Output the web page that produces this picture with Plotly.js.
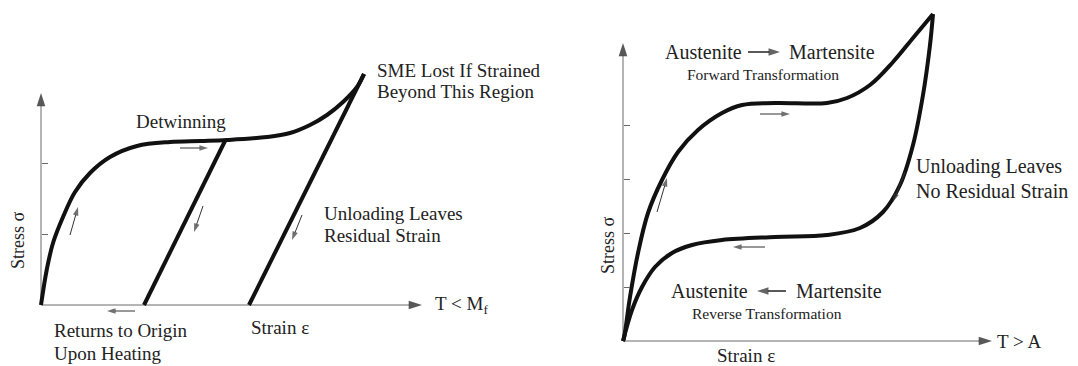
<!DOCTYPE html>
<html>
<head>
<meta charset="utf-8">
<script src="https://cdn.plot.ly/plotly-3.0.1.min.js"></script>
<style>html,body{margin:0;padding:0;background:#fff;}#chart{width:1078px;height:366px;}</style>
</head>
<body>
<div id="chart"></div>
<script>
// ---------- Left panel: T < Mf (shape memory effect), arbitrary units ----------
var loadStrainL = [0, 5.7, 12, 22, 34, 49, 69, 96, 129, 160, 186, 226, 249, 269, 286, 302, 316, 323];
var loadStressL = [0, 35, 62, 88, 113, 132, 148, 159, 163, 164, 165, 168, 172, 180, 190, 203, 218, 231];
var unload1StrainL = [184, 103];
var unload1StressL = [164, 0];
var unload2StrainL = [323, 208];
var unload2StressL = [231, 0];
var yTicksL = [71, 142];
var axisTipL = {x: 381, y: 212};

// ---------- Right panel: T > A (pseudoelasticity), arbitrary units ----------
var fwdStrainR = [0, 1, 7, 15, 25, 39, 55, 75, 99, 119, 152, 204, 224, 247, 270, 290, 310];
var fwdStressR = [0, 3, 44, 88, 128, 161, 189, 211, 228, 236, 238, 238, 243, 256, 279, 303, 327];
var revStrainR = [310, 307, 300, 290, 277, 260, 237, 204, 152, 99, 69, 49, 32, 19, 9, 0];
var revStressR = [327, 296, 246, 196, 156, 129, 113, 106, 104, 101, 96, 88, 74, 54, 31, 0];
var yTicksR = [54, 108, 162, 216];
var axisTipR = {x: 369, y: 298};

// direction arrows: [tailX, tailY, tipX, tipY]
var arrowsL = [[29, 70, 37, 98], [139, 157, 167, 157], [162, 99, 153, 73], [261, 90, 251, 65], [94, -6, 66, -6]];
var arrowsR = [[34, 129, 44, 163], [137, 227, 167, 227], [282, 169, 270, 139], [142, 94, 110, 94]];
var textArrowsR = [[125, 289, 157, 289], [163, 50, 134, 50]];

var INK = '#111';
var TXT = '#222';
var AX = '#6a6a6a';
var FONT = 'Liberation Serif, Times New Roman, serif';

var traces = [];
function curve(xs, ys, xa, ya) {
  traces.push({x: xs, y: ys, xaxis: xa, yaxis: ya, mode: 'lines', type: 'scatter',
    line: {color: INK, width: 4, shape: 'spline', smoothing: 1}, hoverinfo: 'skip'});
}
function straight(xs, ys, xa, ya) {
  traces.push({x: xs, y: ys, xaxis: xa, yaxis: ya, mode: 'lines', type: 'scatter',
    line: {color: INK, width: 4}, hoverinfo: 'skip'});
}
function arrow(a, xa, ya, color, lw, size, headColor) {
  traces.push({x: [a[0], a[2]], y: [a[1], a[3]], xaxis: xa, yaxis: ya, type: 'scatter',
    mode: 'lines+markers', cliponaxis: false, hoverinfo: 'skip',
    line: {color: color, width: lw},
    marker: {symbol: ['circle', 'arrow'], size: [0, size], color: headColor || color, angleref: 'previous',
      line: {width: 0}}});
}

// left panel
arrow([0, 0, 0, axisTipL.y], 'x', 'y', AX, 1, 14, '#111');
arrow([0, 0, axisTipL.x, 0], 'x', 'y', AX, 1, 14, '#111');
curve(loadStrainL, loadStressL, 'x', 'y');
straight(unload1StrainL, unload1StressL, 'x', 'y');
straight(unload2StrainL, unload2StressL, 'x', 'y');
arrowsL.forEach(function (a) { arrow(a, 'x', 'y', '#333', 1, 9); });

// right panel
arrow([0, 0, 0, axisTipR.y], 'x2', 'y2', AX, 1, 14, '#111');
arrow([0, 0, axisTipR.x, 0], 'x2', 'y2', AX, 1, 14, '#111');
curve(fwdStrainR, fwdStressR, 'x2', 'y2');
curve(revStrainR, revStressR, 'x2', 'y2');
arrowsR.forEach(function (a) { arrow(a, 'x2', 'y2', '#333', 1, 9); });
textArrowsR.forEach(function (a) { arrow(a, 'x2', 'y2', '#222', 1.5, 12); });

function txt(s, x, y, xr, yr, size, anchor, angle) {
  return {text: s, x: x, y: y, xref: xr, yref: yr, showarrow: false,
    xanchor: anchor || 'left', yanchor: 'middle', textangle: angle || 0,
    font: {family: FONT, size: size, color: TXT}};
}

var annotations = [
  txt('Detwinning', 140, 184, 'x', 'y', 19, 'center'),
  txt('SME Lost If Strained', 334, 235, 'x', 'y', 19),
  txt('Beyond This Region', 334, 214, 'x', 'y', 19),
  txt('Unloading Leaves', 281, 92, 'x', 'y', 19),
  txt('Residual Strain', 281, 70, 'x', 'y', 19),
  txt('Returns to Origin', 11, -25, 'x', 'y', 19),
  txt('Upon Heating', 11, -48, 'x', 'y', 19),
  txt('Strain ε', 208, -22, 'x', 'y', 19),
  txt('T < M<sub>f</sub>', 392, 0, 'x', 'y', 19),
  txt('Stress σ', -23, 65, 'x', 'y', 18, 'center', -90),

  txt('Austenite', 40, 289, 'x2', 'y2', 20),
  txt('Martensite', 164, 289, 'x2', 'y2', 20),
  txt('Forward Transformation', 140, 267, 'x2', 'y2', 15.5, 'center'),
  txt('Unloading Leaves', 291, 175, 'x2', 'y2', 20),
  txt('No Residual Strain', 291, 150, 'x2', 'y2', 20),
  txt('Austenite', 46, 50, 'x2', 'y2', 20),
  txt('Martensite', 171, 50, 'x2', 'y2', 20),
  txt('Reverse Transformation', 144, 28, 'x2', 'y2', 15.5, 'center'),
  txt('Strain ε', 92, -14, 'x2', 'y2', 19),
  txt('T > A', 372, 0, 'x2', 'y2', 19),
  txt('Stress σ', -15, 96, 'x2', 'y2', 18, 'center', -90)
];

var hid = {showgrid: false, zeroline: false, showline: false, showticklabels: false, fixedrange: true};
function ax(extra) { return Object.assign({}, hid, extra); }

var layout = {
  width: 1078, height: 366,
  margin: {l: 0, r: 0, t: 0, b: 0},
  paper_bgcolor: '#fff', plot_bgcolor: 'rgba(0,0,0,0)',
  showlegend: false,
  xaxis: ax({domain: [0, 540 / 1078], range: [-41, 499], ticks: ''}),
  yaxis: ax({domain: [0, 1], range: [-61, 305], anchor: 'free', position: 41 / 1078,
    ticks: 'inside', ticklen: 6, tickwidth: 1, tickcolor: AX, tickvals: yTicksL}),
  xaxis2: ax({domain: [590 / 1078, 1], range: [-33, 455], ticks: '', anchor: 'y2'}),
  yaxis2: ax({domain: [0, 1], range: [-25, 341], anchor: 'free', position: 623 / 1078,
    ticks: 'inside', ticklen: 6, tickwidth: 1, tickcolor: AX, tickvals: yTicksR}),
  annotations: annotations
};

Plotly.newPlot('chart', traces, layout, {staticPlot: true, displayModeBar: false});
</script>
</body>
</html>
